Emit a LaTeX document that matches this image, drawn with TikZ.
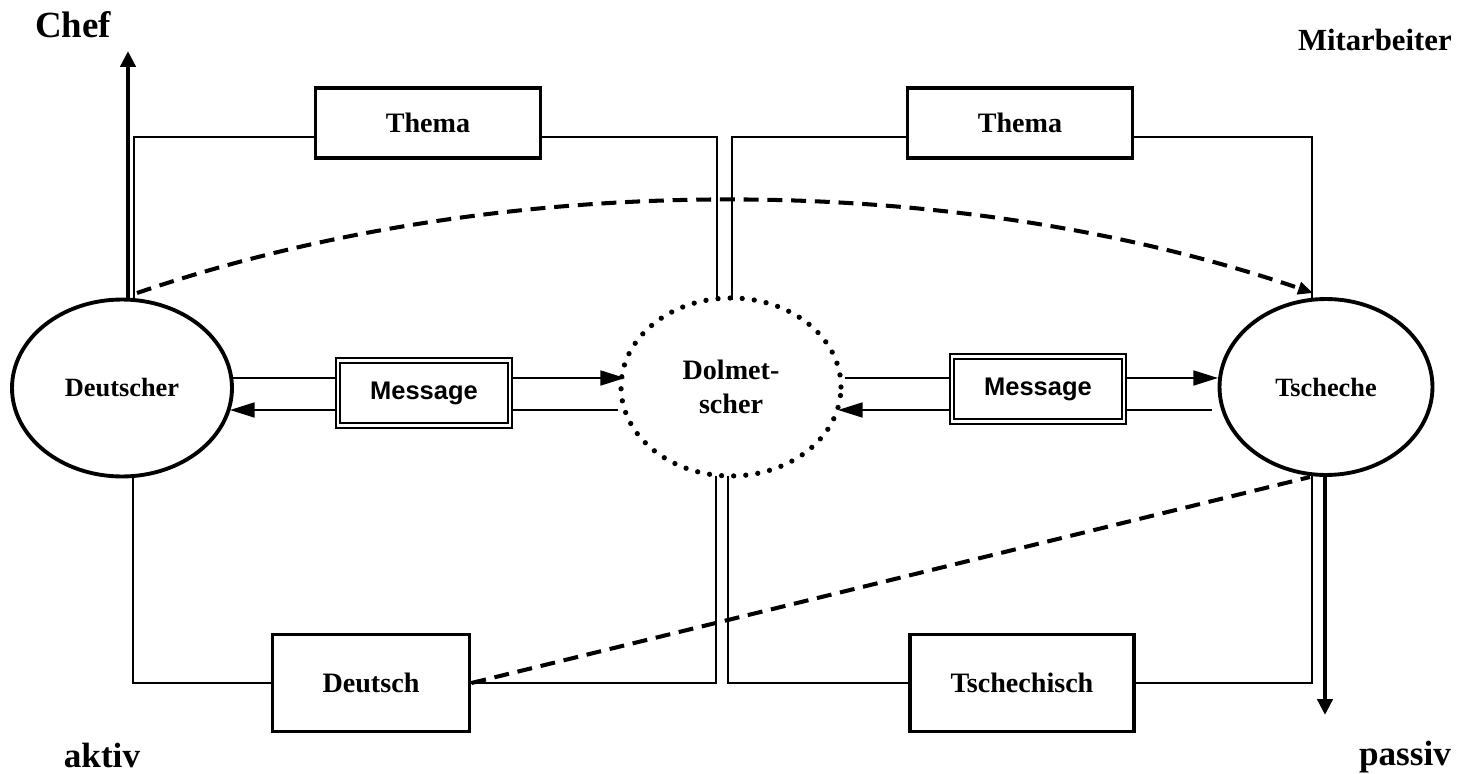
\documentclass[tikz,border=0pt]{standalone}
\usepackage{fontspec}
\setmainfont{Liberation Serif}
\setsansfont{Liberation Sans}
\usetikzlibrary{positioning,arrows.meta,shapes.geometric}

\begin{document}
\begin{tikzpicture}[
  x=0.02cm, y=-0.02cm,
  font=\bfseries,
  person/.style={ellipse, draw, line width=2.2pt, inner sep=0pt,
                 minimum width=4.4cm, minimum height=3.54cm,
                 font=\bfseries\fontsize{15}{18}\selectfont},
  interp/.style={ellipse, draw, line width=3pt, line cap=round,
                 dash pattern=on 0pt off 6.9pt, inner sep=0pt,
                 minimum width=4.4cm, minimum height=3.56cm, align=center,
                 font=\bfseries\fontsize{16}{19.3}\selectfont},
  topic/.style={rectangle, draw, line width=2.2pt, minimum width=4.5cm,
                minimum height=1.4cm, font=\bfseries\fontsize{16}{19}\selectfont},
  lang/.style={topic, minimum width=4.48cm, minimum height=1.94cm},
  msg/.style={rectangle, draw, line width=1pt, double=white,
              double distance=1.5pt, minimum width=3.44cm, minimum height=1.3cm,
              font=\sffamily\bfseries\fontsize{14.5}{17}\selectfont},
  corner/.style={font=\bfseries\fontsize{20}{24}\selectfont, inner sep=0pt},
  wire/.style={line width=1.1pt},
  flow/.style={wire, -{Triangle[length=14pt, width=8.5pt]}},
  lift/.style={line width=2.3pt, -{Triangle[length=9pt, width=8.5pt]}},
  hint/.style={line width=2.3pt, dash pattern=on 8.5pt off 5pt}
]
\useasboundingbox (0,0) rectangle (1468,774);

% ---------- persons ----------
\node[person] (deu) at (122,388) {Deutscher};
\node[person, minimum width=4.26cm, minimum height=3.52cm] (tsc) at (1326,387) {Tscheche};
\node[interp] (dol) at (731,387) {Dolmet-\\scher};

% ---------- topic and language boxes ----------
\node[topic] (th1) at (428,123) {Thema};
\node[topic] (th2) at (1020,123) {Thema};
\node[lang, minimum width=3.94cm] (lde) at (371,683) {Deutsch};
\node[lang] (lcz) at (1022,683) {Tschechisch};

% ---------- messages ----------
\node[msg] (msg1) at (424,393) {Message};
\node[msg] (msg2) at (1038,389) {Message};

% ---------- corner labels ----------
\node[corner, font=\bfseries\fontsize{21}{25}\selectfont] (chef) at (73,25) {Chef};
\node[corner, anchor=east, font=\bfseries\fontsize{17.5}{21}\selectfont] (mit) at (1452,40) {Mitarbeiter};
\node[corner] (akt) at (102,755) {aktiv};
\node[corner] (pas) at (1405,757) {passiv};

% ---------- wiring over the top ----------
\coordinate (wtop) at (0,137);
\coordinate (deuT) at (134,300);
\coordinate (dolTL) at (717,298);
\coordinate (dolTR) at (732,300);
\coordinate (tscT) at (1312,299);
\draw[wire] (deuT) |- (th1.west |- wtop);
\draw[wire] (th1.east |- wtop) -| (dolTL);
\draw[wire] (dolTR) |- (th2.west |- wtop);
\draw[wire] (th2.east |- wtop) -| (tscT);

% ---------- wiring along the bottom ----------
\coordinate (deuB) at (133,477);
\coordinate (dolBL) at (716,476);
\coordinate (dolBR) at (728,476);
\coordinate (tscB) at (1312,475);
\draw[wire] (deuB) |- (lde.west);
\draw[wire] (lde.east) -| (dolBL);
\draw[wire] (dolBR) |- (lcz.west);
\draw[wire] (lcz.east) -| (tscB);

% ---------- message flow ----------
\coordinate (m1a) at (233,378);
\coordinate (m1b) at (625,378);
\coordinate (m1c) at (618,410);
\coordinate (m1d) at (230,410);
\draw[wire] (m1a) -- (msg1.west |- m1a);
\draw[flow] (msg1.east |- m1a) -- (m1b);
\draw[wire] (m1c) -- (msg1.east |- m1c);
\draw[flow] (msg1.west |- m1c) -- (m1d);

\coordinate (m2a) at (845,378);
\coordinate (m2b) at (1218,378);
\coordinate (m2c) at (1212,410);
\coordinate (m2d) at (838,410);
\draw[wire] (m2a) -- (msg2.west |- m2a);
\draw[flow] (msg2.east |- m2a) -- (m2b);
\draw[wire] (m2c) -- (msg2.east |- m2c);
\draw[flow] (msg2.west |- m2c) -- (m2d);

% ---------- active / passive ----------
\coordinate (chefA) at (128,300);
\coordinate (chefB) at (128,51);
\draw[lift] (chefA) -- (chefB);
\coordinate (pasA) at (1325,475);
\coordinate (pasB) at (1325,715);
\draw[lift] (pasA) -- (pasB);

% ---------- dashed relations ----------
\coordinate (dsA) at (137,293);
\coordinate (dsB) at (1313,293);
\draw[hint, -{Triangle[length=8.5pt, width=7pt]}]
  (dsA) .. controls (500,169) and (950,169) .. (dsB);
\coordinate (dbB) at (1310,477);
\draw[hint] (lde.east) -- (dbB);

\end{tikzpicture}
\end{document}
